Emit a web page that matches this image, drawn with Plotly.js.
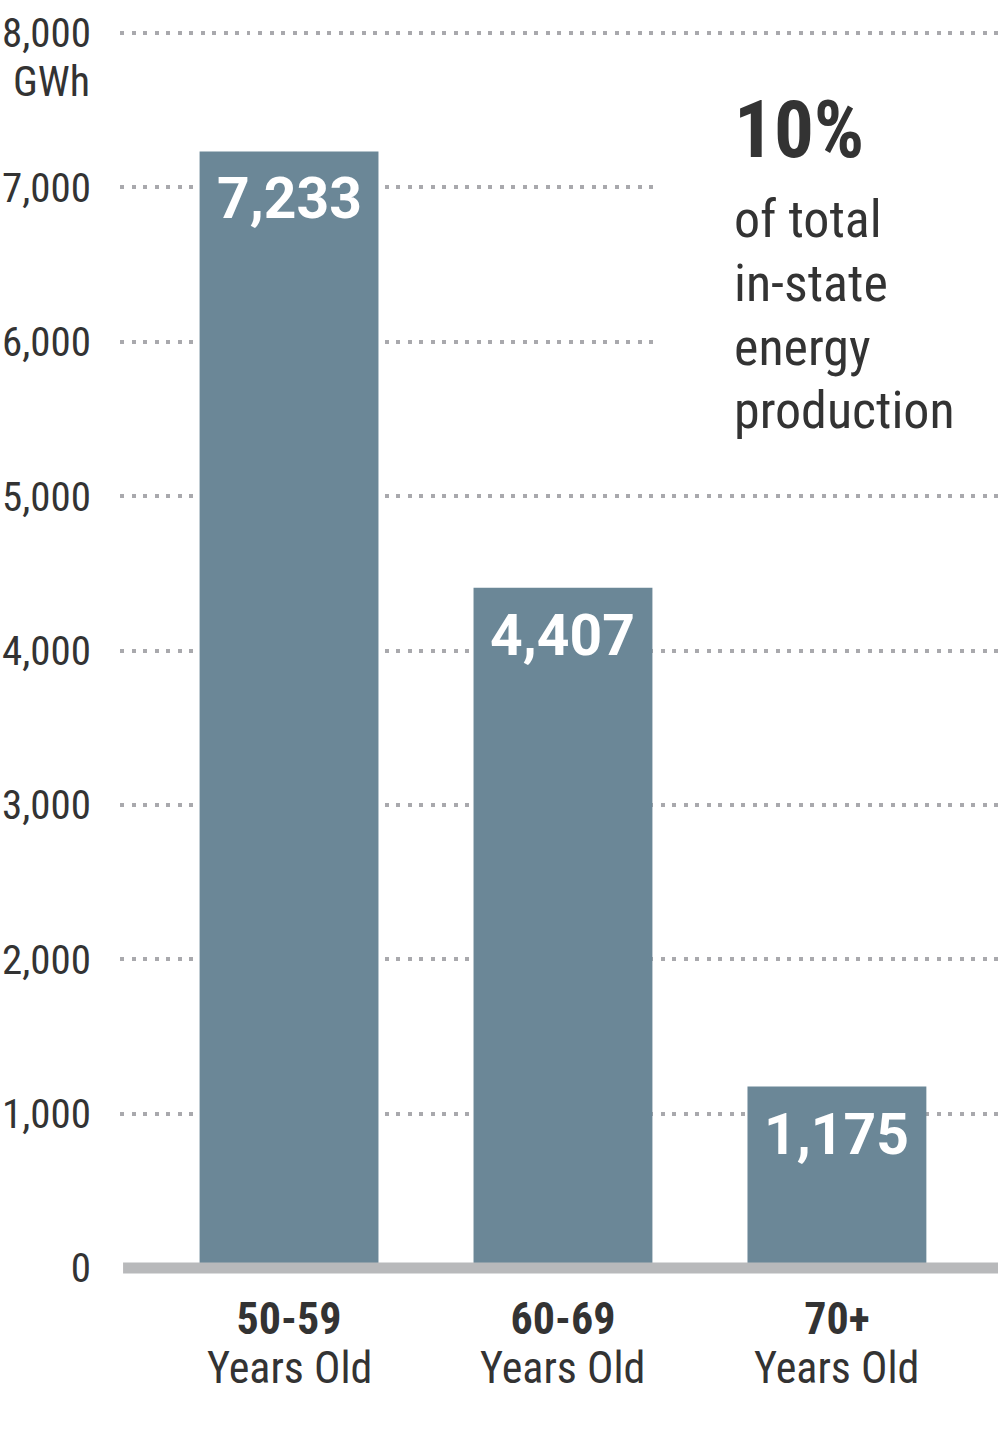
<!DOCTYPE html>
<html>
<head>
<meta charset="utf-8">
<script src="https://cdn.plot.ly/plotly-3.0.1.min.js"></script>
<style>html,body{margin:0;padding:0;background:#fff;}#chart{width:998px;height:1442px;}</style>
</head>
<body>
<div id="chart"></div>
<script>
const categories = ["50-59", "60-69", "70+"];
const subLabels = ["Years Old", "Years Old", "Years Old"];
const values = [7233, 4407, 1175];
const valueLabels = ["7,233", "4,407", "1,175"];
const yTicks = [0, 1000, 2000, 3000, 4000, 5000, 6000, 7000, 8000];
const yTickLabels = ["0", "1,000", "2,000", "3,000", "4,000", "5,000", "6,000", "7,000", "8,000"];
const unitLabel = "GWh";
const calloutBig = "10%";
const calloutLines = ["of total", "in-state", "energy", "production"];

const COND = "Roboto Condensed, Liberation Sans Narrow, DejaVu Sans Condensed, sans-serif";
const DARK = "#333333";
const BAR = "#6b8797";
const PH = 1238; // plot height in px (for paper-positioned text)

const trace = {
  type: "bar",
  x: categories,
  y: values,
  width: 0.653,
  marker: {color: BAR},
  hoverinfo: "skip"
};

const annotations = [];
// white panel behind the callout text (hides the gridlines there)
annotations.push({
  x: (653 - 120) / 878, y: (1268 - 95) / PH, xref: "paper", yref: "paper",
  xanchor: "left", yanchor: "top", text: " ", showarrow: false,
  width: 345, height: 360, bgcolor: "#ffffff", borderpad: 0, borderwidth: 0
});
categories.forEach((c, i) => {
  annotations.push({
    x: c, y: values[i], xref: "x", yref: "y",
    text: valueLabels[i], showarrow: false,
    yanchor: "top", yshift: -12,
    font: {family: "Roboto, sans-serif", size: 57, color: "#ffffff", weight: 700}
  });
  annotations.push({
    x: c, y: 0, xref: "x", yref: "y",
    text: subLabels[i], showarrow: false,
    yanchor: "middle", yshift: -100,
    font: {family: COND, size: 44, color: DARK}
  });
});
annotations.push({
  x: 0, y: 8000, xref: "paper", yref: "y",
  text: unitLabel, showarrow: false,
  xanchor: "right", yanchor: "middle", xshift: -28, yshift: -48,
  font: {family: COND, size: 42, color: DARK}
});
annotations.push({
  x: 0.697, y: (1268 - 130) / PH, xref: "paper", yref: "paper",
  text: "<b>" + calloutBig + "</b>", showarrow: false,
  xanchor: "left", yanchor: "middle",
  font: {family: COND, size: 79, color: DARK}
});
const lineCentersPx = [219, 283, 347, 411];
calloutLines.forEach((t, i) => {
  annotations.push({
    x: 0.697, y: (1268 - lineCentersPx[i]) / PH, xref: "paper", yref: "paper",
    text: t, showarrow: false,
    xanchor: "left", yanchor: "middle",
    font: {family: COND, size: 52, color: DARK}
  });
});

const layout = {
  width: 998, height: 1442,
  margin: {l: 120, r: 0, t: 30, b: 174},
  paper_bgcolor: "#ffffff", plot_bgcolor: "#ffffff",
  showlegend: false,
  xaxis: {
    type: "category",
    range: [-0.617, 2.588],
    showgrid: false, zeroline: false, showline: false,
    tickfont: {family: COND, size: 44, color: DARK, weight: 700},
    ticks: "", ticklabelstandoff: 21
  },
  yaxis: {
    range: [0, 8020],
    tickvals: yTicks, ticktext: yTickLabels,
    showgrid: true, gridcolor: "#a9a9ad", gridwidth: 4, griddash: "4px,7.5px",
    zeroline: false, showline: false,
    tickfont: {family: COND, size: 41, color: DARK},
    ticks: "", ticklabelstandoff: 28
  },
  shapes: [
    {type: "line", xref: "paper", yref: "paper", x0: 0.0035, x1: 1, y0: 0, y1: 0,
     line: {color: "#b8b9bb", width: 11}, layer: "above"}
  ],
  annotations: annotations
};

Plotly.newPlot("chart", [trace], layout, {displayModeBar: false, staticPlot: true});
</script>
</body>
</html>
